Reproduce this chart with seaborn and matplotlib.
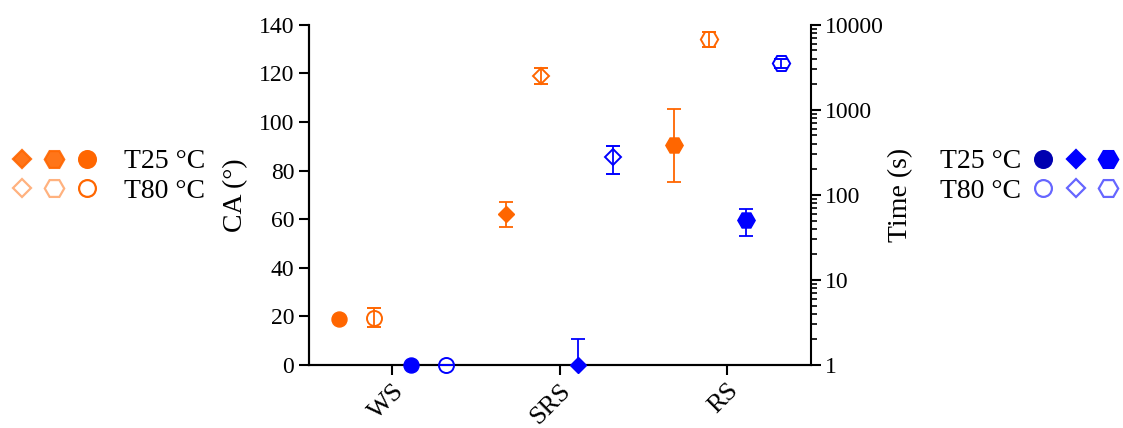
import numpy as np
import matplotlib
matplotlib.use("Agg")
import matplotlib.pyplot as plt
import seaborn as sns
from matplotlib.lines import Line2D
from matplotlib.legend_handler import HandlerTuple
from matplotlib.ticker import FuncFormatter, LogLocator, NullFormatter

# data
categories = ["WS", "SRS", "RS"]
markers = ["o", "D", "H"]

ca_t25 = [19, 62, 90.5]
ca_t25_err = [0.8, 5, 15]
ca_t80 = [19.5, 119, 134]
ca_t80_err = [4, 3.3, 3]

time_t25 = [1, 1, 51]
time_t25_lo = [0, 0, 18]
time_t25_hi = [0, 1, 17.5]
time_t80 = [1, 280, 3550]
time_t80_lo = [0, 105, 400]
time_t80_hi = [0, 100, 400]

orange = "#FF6600"
blue = "#0000FF"

sns.set_style("ticks")
plt.rcParams["font.family"] = ["Liberation Serif", "DejaVu Serif"]
for key in ["text.color", "axes.labelcolor", "xtick.color", "ytick.color", "axes.edgecolor"]:
    plt.rcParams[key] = "black"

fig = plt.figure(figsize=(11.23, 4.28), dpi=100)
ax = fig.add_axes([0.275, 0.147, 0.447, 0.795])
ax2 = ax.twinx()

msize = {"o": 10.8, "D": 8.6, "H": 12.5}
pos = np.arange(len(categories))

for i, m in enumerate(markers):
    common = dict(marker=m, markersize=msize[m], capsize=5, elinewidth=1.3,
                  capthick=1.3, linestyle="none", clip_on=False, zorder=3)
    ax.errorbar(pos[i] - 0.32, ca_t25[i], yerr=ca_t25_err[i], color=orange,
                mfc=orange, mec=orange, **common)
    ax.errorbar(pos[i] - 0.11, ca_t80[i], yerr=ca_t80_err[i], color=orange,
                mfc="none", mec=orange, mew=1.4, **common)
    ax2.errorbar(pos[i] + 0.11, time_t25[i],
                 yerr=[[time_t25_lo[i]], [time_t25_hi[i]]], color=blue,
                 mfc=blue, mec=blue, **common)
    ax2.errorbar(pos[i] + 0.32, time_t80[i],
                 yerr=[[time_t80_lo[i]], [time_t80_hi[i]]], color=blue,
                 mfc="none", mec=blue, mew=1.4, **common)

ax.set_xlim(-0.5, 2.5)
ax.set_ylim(0, 140)
ax.set_yticks(range(0, 141, 20))
ax.set_xticks(pos)
ax.set_xticklabels(categories, rotation=45, ha="right", rotation_mode="anchor")
ax.set_ylabel("CA (°)", fontsize=20, labelpad=8)

ax2.set_yscale("log")
ax2.set_ylim(1, 10000)
ax2.yaxis.set_major_locator(LogLocator(base=10, numticks=10))
ax2.yaxis.set_minor_locator(LogLocator(base=10, subs=np.arange(2, 10), numticks=50))
ax2.yaxis.set_minor_formatter(NullFormatter())
ax2.yaxis.set_major_formatter(FuncFormatter(lambda v, p: "%d" % round(v)))
ax2.set_ylabel("Time (s)", fontsize=20, labelpad=3)

for a in (ax, ax2):
    a.spines["top"].set_visible(False)
    for s in a.spines.values():
        s.set_linewidth(1.5)
        s.set_color("black")
    a.tick_params(axis="both", which="major", direction="out", length=7,
                  width=1.5, labelsize=17, color="black")
    a.tick_params(axis="y", which="minor", direction="out", length=4, width=1.2)
ax.tick_params(axis="x", labelsize=19)
ax.spines["right"].set_visible(False)

# legends with three markers per row
def row(color, filled, alphas, colors=None):
    hs = []
    for k, m in enumerate(["D", "H", "o"] if colors is None else ["o", "D", "H"]):
        c = color if colors is None else colors[k]
        hs.append(Line2D([], [], marker=m, linestyle="none",
                         markersize=msize[m] * 1.12, color=c, alpha=alphas[k],
                         mfc=c if filled else "none", mec=c, mew=1.6))
    return tuple(hs)

left_handles = [row(orange, True, [0.9, 0.9, 1]), row(orange, False, [0.5, 0.5, 1])]
fig.legend(left_handles, ["T25 °C", "T80 °C"], loc="center left",
           bbox_to_anchor=(0.0, 0.588), frameon=False, fontsize=20,
           handler_map={tuple: HandlerTuple(ndivide=None, pad=0)},
           handlelength=3.5, handletextpad=0.75, labelspacing=0.15,
           borderaxespad=0, borderpad=0.2)

right_handles = [row(blue, True, [1, 1, 1], colors=["#0000B0", blue, blue]),
                 row(blue, False, [0.6, 0.6, 0.6], colors=[blue, blue, blue])]
fig.legend(right_handles, ["T25 °C", "T80 °C"], loc="center right",
           bbox_to_anchor=(1.006, 0.588), frameon=False, fontsize=20,
           handler_map={tuple: HandlerTuple(ndivide=None, pad=0)},
           handlelength=3.5, handletextpad=0.2, labelspacing=0.15,
           borderaxespad=0, borderpad=0.2, markerfirst=False)

fig.savefig("out.png", dpi=100)
